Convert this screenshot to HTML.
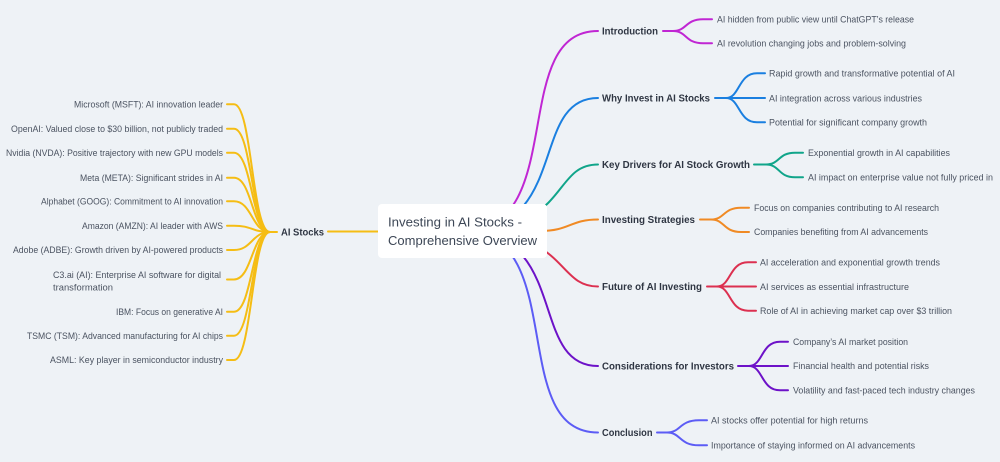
<!DOCTYPE html>
<html><head><meta charset="utf-8"><style>
html,body{margin:0;padding:0;background:#eef2f6;}
svg{display:block;}
text{font-family:"Liberation Sans",sans-serif;}
.lf{font-size:9px;fill:#4b5361;}
.lb{font-size:10px;font-weight:bold;fill:#2f3643;}
.ct{font-size:13px;fill:#3d4756;}
path{fill:none;stroke-width:2;stroke-linecap:round;}
</style></head><body>
<svg width="1000" height="462" viewBox="0 0 1000 462" xmlns="http://www.w3.org/2000/svg">
<rect width="1000" height="462" fill="#eef2f6"/>

<!-- main branches right -->
<path stroke="#c026d3" d="M463 231 C570 231,507 31,598 31"/>
<path stroke="#1a7fe0" d="M463 231 C570 231,529 98,598 98"/>
<path stroke="#10a58a" d="M463 231 C570 231,551 164.5,598 164.5"/>
<path stroke="#f08a24" d="M463 231 H540 C570 231,570 219.5,598 219.5"/>
<path stroke="#dc3050" d="M463 231 C570 231,555 286.5,598 286.5"/>
<path stroke="#6d12c8" d="M463 231 C570 231,528 366,598 366"/>
<path stroke="#5c5cf5" d="M463 231 C570 231,506 432.5,598 432.5"/>

<!-- left main -->
<path stroke="#f5bd14" stroke-width="2.5" d="M463 231.5 H328"/>
<path stroke="#f5bd14" d="M270 232 H277"/>
<g stroke="#f5bd14">
<path d="M227 104.3 H234 C252 104.3,252 232,270 232"/>
<path d="M227 128.8 H234 C252 128.8,252 232,270 232"/>
<path d="M227 152.7 H234 C252 152.7,252 232,270 232"/>
<path d="M227 177.7 H234 C252 177.7,252 232,270 232"/>
<path d="M227 201.3 H234 C252 201.3,252 232,270 232"/>
<path d="M227 225.7 H234 C252 225.7,252 232,270 232"/>
<path d="M227 250 H234 C252 250,252 232,270 232"/>
<path d="M227 279.5 H234 C252 279.5,252 232,270 232"/>
<path d="M227 311.7 H234 C252 311.7,252 232,270 232"/>
<path d="M227 335.7 H234 C252 335.7,252 232,270 232"/>
<path d="M227 360 H234 C252 360,252 232,270 232"/>
</g>

<!-- right leaf fans -->
<g stroke="#c026d3">
<path d="M663 31 H673"/>
<path d="M673 31 C687 31,685 19.3,703 19.3 H712"/>
<path d="M673 31 C687 31,685 43.3,703 43.3 H712"/>
</g>
<g stroke="#1a7fe0">
<path d="M715 98 H726"/>
<path d="M726 98 C740 98,738 73.3,757 73.3 H765"/>
<path d="M726 98 H765"/>
<path d="M726 98 C740 98,738 122.3,757 122.3 H765"/>
</g>
<g stroke="#10a58a">
<path d="M754 164.5 H766"/>
<path d="M766 164.5 C780 164.5,778 152.7,795 152.7 H803"/>
<path d="M766 164.5 C780 164.5,778 177.3,795 177.3 H803"/>
</g>
<g stroke="#f08a24">
<path d="M700 219.5 H711"/>
<path d="M711 219.5 C725 219.5,723 207.7,741 207.7 H749"/>
<path d="M711 219.5 C725 219.5,723 232,741 232 H749"/>
</g>
<g stroke="#dc3050">
<path d="M707 286.5 H717"/>
<path d="M717 286.5 C731 286.5,729 262.3,748 262.3 H756"/>
<path d="M717 286.5 H756"/>
<path d="M717 286.5 C731 286.5,729 310.7,748 310.7 H756"/>
</g>
<g stroke="#6d12c8">
<path d="M738 366 H749"/>
<path d="M749 366 C763 366,761 341.7,780 341.7 H788"/>
<path d="M749 366 H788"/>
<path d="M749 366 C763 366,761 390.3,780 390.3 H788"/>
</g>
<g stroke="#5c5cf5">
<path d="M657 432.5 H667"/>
<path d="M667 432.5 C681 432.5,679 420.3,699 420.3 H707"/>
<path d="M667 432.5 C681 432.5,679 445.3,699 445.3 H707"/>
</g>

<!-- center box -->
<rect x="378" y="204" width="169" height="54" rx="4" fill="#ffffff"/>
<text class="ct" x="388" y="226.7" textLength="134" lengthAdjust="spacingAndGlyphs">Investing in AI Stocks -</text>
<text class="ct" x="388" y="245" textLength="149" lengthAdjust="spacingAndGlyphs">Comprehensive Overview</text>

<!-- branch labels -->
<text class="lb" x="281" y="235.6" textLength="43" lengthAdjust="spacingAndGlyphs">AI Stocks</text>
<text class="lb" x="602" y="34.6" textLength="56" lengthAdjust="spacingAndGlyphs">Introduction</text>
<text class="lb" x="602" y="101.6" textLength="108" lengthAdjust="spacingAndGlyphs">Why Invest in AI Stocks</text>
<text class="lb" x="602" y="168.1" textLength="148" lengthAdjust="spacingAndGlyphs">Key Drivers for AI Stock Growth</text>
<text class="lb" x="602" y="223.1" textLength="93" lengthAdjust="spacingAndGlyphs">Investing Strategies</text>
<text class="lb" x="602" y="290.1" textLength="100" lengthAdjust="spacingAndGlyphs">Future of AI Investing</text>
<text class="lb" x="602" y="369.6" textLength="132" lengthAdjust="spacingAndGlyphs">Considerations for Investors</text>
<text class="lb" x="602" y="436.1" textLength="50.5" lengthAdjust="spacingAndGlyphs">Conclusion</text>

<!-- left leaves -->
<text class="lf" x="74" y="107.5" textLength="149" lengthAdjust="spacingAndGlyphs">Microsoft (MSFT): AI innovation leader</text>
<text class="lf" x="11" y="132" textLength="212" lengthAdjust="spacingAndGlyphs">OpenAI: Valued close to $30 billion, not publicly traded</text>
<text class="lf" x="6" y="155.9" textLength="217" lengthAdjust="spacingAndGlyphs">Nvidia (NVDA): Positive trajectory with new GPU models</text>
<text class="lf" x="80" y="180.9" textLength="143" lengthAdjust="spacingAndGlyphs">Meta (META): Significant strides in AI</text>
<text class="lf" x="41" y="204.5" textLength="182" lengthAdjust="spacingAndGlyphs">Alphabet (GOOG): Commitment to AI innovation</text>
<text class="lf" x="82" y="228.9" textLength="141" lengthAdjust="spacingAndGlyphs">Amazon (AMZN): AI leader with AWS</text>
<text class="lf" x="13" y="253.2" textLength="210" lengthAdjust="spacingAndGlyphs">Adobe (ADBE): Growth driven by AI-powered products</text>
<text class="lf" x="53" y="278.2" textLength="168" lengthAdjust="spacingAndGlyphs">C3.ai (AI): Enterprise AI software for digital</text>
<text class="lf" x="53" y="290.4" textLength="60" lengthAdjust="spacingAndGlyphs">transformation</text>
<text class="lf" x="116" y="314.9" textLength="107" lengthAdjust="spacingAndGlyphs">IBM: Focus on generative AI</text>
<text class="lf" x="27" y="338.9" textLength="196" lengthAdjust="spacingAndGlyphs">TSMC (TSM): Advanced manufacturing for AI chips</text>
<text class="lf" x="50" y="363.2" textLength="173" lengthAdjust="spacingAndGlyphs">ASML: Key player in semiconductor industry</text>

<!-- right leaves -->
<text class="lf" x="717" y="22.5" textLength="197" lengthAdjust="spacingAndGlyphs">AI hidden from public view until ChatGPT’s release</text>
<text class="lf" x="717" y="46.5" textLength="189" lengthAdjust="spacingAndGlyphs">AI revolution changing jobs and problem-solving</text>
<text class="lf" x="769" y="76.5" textLength="186" lengthAdjust="spacingAndGlyphs">Rapid growth and transformative potential of AI</text>
<text class="lf" x="769" y="101.5" textLength="153" lengthAdjust="spacingAndGlyphs">AI integration across various industries</text>
<text class="lf" x="769" y="125.5" textLength="158" lengthAdjust="spacingAndGlyphs">Potential for significant company growth</text>
<text class="lf" x="808" y="155.9" textLength="142" lengthAdjust="spacingAndGlyphs">Exponential growth in AI capabilities</text>
<text class="lf" x="808" y="180.5" textLength="185" lengthAdjust="spacingAndGlyphs">AI impact on enterprise value not fully priced in</text>
<text class="lf" x="754" y="210.9" textLength="185" lengthAdjust="spacingAndGlyphs">Focus on companies contributing to AI research</text>
<text class="lf" x="754" y="235.2" textLength="174" lengthAdjust="spacingAndGlyphs">Companies benefiting from AI advancements</text>
<text class="lf" x="760" y="265.5" textLength="180" lengthAdjust="spacingAndGlyphs">AI acceleration and exponential growth trends</text>
<text class="lf" x="760" y="290.2" textLength="149" lengthAdjust="spacingAndGlyphs">AI services as essential infrastructure</text>
<text class="lf" x="760" y="313.9" textLength="192" lengthAdjust="spacingAndGlyphs">Role of AI in achieving market cap over $3 trillion</text>
<text class="lf" x="793" y="344.9" textLength="115" lengthAdjust="spacingAndGlyphs">Company’s AI market position</text>
<text class="lf" x="793" y="369.2" textLength="136" lengthAdjust="spacingAndGlyphs">Financial health and potential risks</text>
<text class="lf" x="793" y="393.5" textLength="182" lengthAdjust="spacingAndGlyphs">Volatility and fast-paced tech industry changes</text>
<text class="lf" x="711" y="423.5" textLength="157" lengthAdjust="spacingAndGlyphs">AI stocks offer potential for high returns</text>
<text class="lf" x="711" y="448.5" textLength="204" lengthAdjust="spacingAndGlyphs">Importance of staying informed on AI advancements</text>
</svg>
</body></html>
